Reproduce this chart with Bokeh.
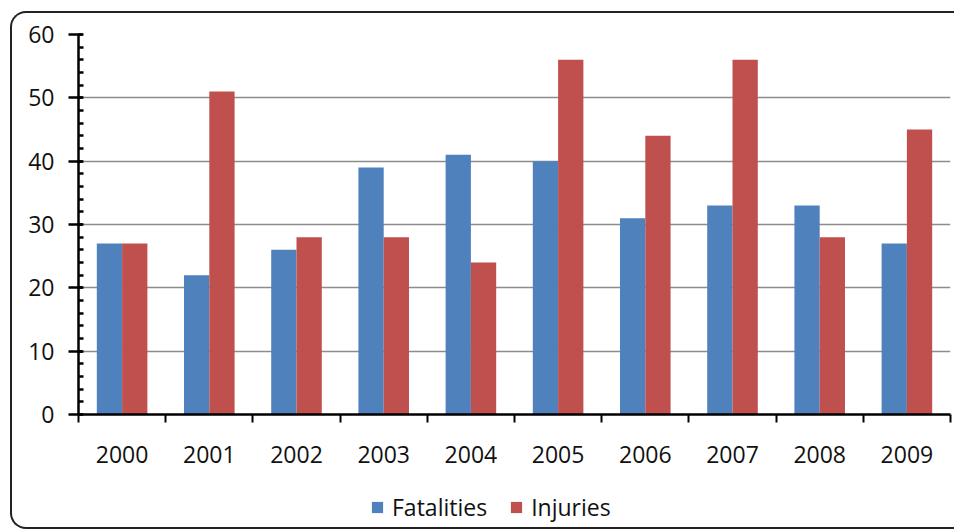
from bokeh.plotting import figure
from bokeh.layouts import column
from bokeh.models import (ColumnDataSource, FixedTicker, Range1d, Legend, LegendItem,
                          InlineStyleSheet)
from bokeh.embed import file_html
from bokeh.resources import INLINE

years = ["2000", "2001", "2002", "2003", "2004", "2005", "2006", "2007", "2008", "2009"]
fatalities = [27, 22, 26, 39, 41, 40, 31, 33, 33, 27]
injuries = [27, 51, 28, 28, 24, 56, 44, 56, 28, 45]
y_ticks = [0, 10, 20, 30, 40, 50, 60]
series_names = ["Fatalities", "Injuries"]

BLUE = "#4F81BD"
RED = "#C0504D"
FONT = "Open Sans"
FS = "23px"

idx = list(range(len(years)))
src = ColumnDataSource(dict(
    xf=[i + 0.5 - 0.145 for i in idx],
    xi=[i + 0.5 + 0.145 for i in idx],
    fat=fatalities,
    inj=injuries,
))

p = figure(width=954, height=481, output_backend="svg", toolbar_location=None,
           x_range=Range1d(0, len(years)), y_range=Range1d(0, 60),
           min_border_left=78, min_border_right=4, min_border_top=34, min_border_bottom=67)
p.outline_line_color = None
p.background_fill_color = "white"
p.border_fill_color = "white"

rf = p.vbar(x="xf", top="fat", width=0.29, source=src, fill_color=BLUE, line_color=None)
ri = p.vbar(x="xi", top="inj", width=0.29, source=src, fill_color=RED, line_color=None)

# x axis: labels at category centres, tick marks at category boundaries
p.xaxis.ticker = FixedTicker(ticks=[i + 0.5 for i in idx], minor_ticks=list(range(len(years) + 1)))
p.xaxis.major_label_overrides = {i + 0.5: y for i, y in zip(idx, years)}
p.xaxis.major_tick_in = 0
p.xaxis.major_tick_out = 0
p.xaxis.minor_tick_in = 0
p.xaxis.minor_tick_out = 8
p.xaxis.minor_tick_line_width = 2
p.xaxis.minor_tick_line_color = "black"
p.xaxis.axis_line_width = 2.5
p.xaxis.axis_line_color = "black"
p.xaxis.major_label_standoff = 23
p.xaxis.major_label_text_font = FONT
p.xaxis.major_label_text_font_size = FS
p.xaxis.major_label_text_color = "#111111"

# y axis
p.yaxis.ticker = FixedTicker(ticks=y_ticks, minor_ticks=list(range(0, 61, 2)))
p.yaxis.major_tick_in = 4
p.yaxis.major_tick_out = 10
p.yaxis.minor_tick_in = 5
p.yaxis.minor_tick_out = 0
p.yaxis.major_tick_line_width = 2.5
p.yaxis.minor_tick_line_width = 2.5
p.yaxis.major_tick_line_color = "black"
p.yaxis.minor_tick_line_color = "black"
p.yaxis.axis_line_width = 2.5
p.yaxis.axis_line_color = "black"
p.yaxis.major_label_standoff = 14
p.yaxis.major_label_text_font = FONT
p.yaxis.major_label_text_font_size = FS
p.yaxis.major_label_text_color = "#111111"

p.xgrid.grid_line_color = None
p.ygrid.ticker = FixedTicker(ticks=y_ticks[1:])
p.ygrid.grid_line_color = "#8c8c8c"
p.ygrid.grid_line_width = 1.5

# legend strip below the chart (its own ranges keep the bars out of view)
q = figure(width=954, height=50, output_backend="svg", toolbar_location=None,
           x_range=Range1d(100, 101), y_range=Range1d(100, 101),
           min_border_left=0, min_border_right=0, min_border_top=0, min_border_bottom=0)
q.axis.visible = False
q.grid.visible = False
q.outline_line_color = None
q.border_fill_color = "white"
lf = q.vbar(x="xf", top="fat", width=0.29, source=src, fill_color=BLUE, line_color=None)
li = q.vbar(x="xi", top="inj", width=0.29, source=src, fill_color=RED, line_color=None)
legend = Legend(items=[LegendItem(label=series_names[0], renderers=[lf]),
                       LegendItem(label=series_names[1], renderers=[li])],
                orientation="horizontal", location=(292, 8),
                glyph_width=14, glyph_height=14, spacing=22, label_standoff=8,
                label_text_font=FONT, label_text_font_size=FS, label_text_color="#111111",
                border_line_alpha=0, background_fill_alpha=0, padding=0, margin=0)
q.add_layout(legend, "center")

p.stylesheets = [InlineStyleSheet(css="""
:host { position: relative; }
:host::after {
  content: ""; position: absolute;
  left: 10px; top: 11px; right: 0px; bottom: 0px;
  border-left: 2.5px solid #222; border-top: 2.5px solid #222;
  border-top-left-radius: 16px;
  pointer-events: none; box-sizing: border-box;
}
""")]
q.stylesheets = [InlineStyleSheet(css="""
:host { position: relative; }
:host::after {
  content: ""; position: absolute;
  left: 10px; top: 0px; right: 0px; height: 48px;
  border-left: 2.5px solid #222; border-bottom: 2.5px solid #222;
  border-bottom-left-radius: 16px;
  pointer-events: none; box-sizing: border-box;
}
""")]

layout = column(p, q, spacing=0)
open("out.html", "w").write(file_html(layout, INLINE))
